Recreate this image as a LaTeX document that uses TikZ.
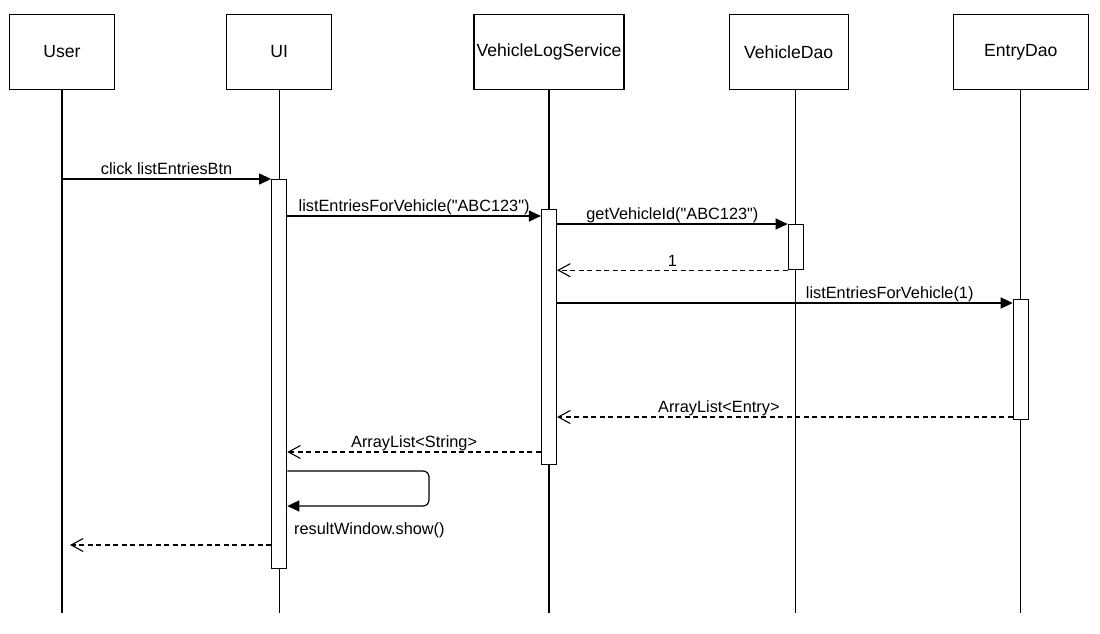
\documentclass[tikz,border=0pt]{standalone}
\usepackage{fontspec}
\setmainfont{Liberation Sans}[Ligatures=TeXOff]
\usetikzlibrary{arrows.meta}
\usetikzlibrary{positioning}

\begin{document}
\begin{tikzpicture}[x=1pt,y=-1pt,
  lifebox/.style={draw,line width=1.2pt,minimum height=75pt,inner sep=0pt,font=\fontsize{17.6}{20}\selectfont},
  act/.style={draw,fill=white,line width=1.2pt,minimum width=15pt,inner sep=0pt,anchor=north},
  lifeline/.style={line width=1.1pt},
  msg/.style={line width=1.2pt,-{Triangle[length=12pt,width=11pt]}},
  ret/.style={line width=1.1pt,dash pattern=on 5pt off 3.5pt,-{Straight Barb[length=12pt,width=13pt]}},
  lbl/.style={font=\fontsize{16.3}{19}\selectfont,inner sep=1pt,text depth=0.25em}]
  \useasboundingbox (0,0) rectangle (1100,634);
  % participants
  \node[lifebox,minimum width=105pt] (user) at (62,51.8) {User};
  \node[lifebox,minimum width=105pt] (ui) at (279.2,51.8) {UI};
  \node[lifebox,minimum width=150pt] (vls) at (549,51.8) {VehicleLogService};
  \node[lifebox,minimum width=119pt] (vdao) at (788.7,51.8) {VehicleDao};
  \node[lifebox,minimum width=135pt] (edao) at (1020.8,51.8) {EntryDao};
  % activations
  \node[act,minimum height=389pt] (uiact) at (279.2,179) {};
  \node[act,minimum height=255pt] (vlsact) at (549,209) {};
  \node[act,minimum height=45pt] (vdaoact) at (795.8,224) {};
  \node[act,minimum height=120pt] (edaoact) at (1020.8,299) {};
  % lifelines
  \draw[lifeline] (user.south) -- (user.south |- 0,613);
  \draw[lifeline] (ui.south) -- (uiact.north);
  \draw[lifeline] (uiact.south) -- (uiact.south |- 0,613);
  \draw[lifeline] (vls.south -| vlsact.north) -- (vlsact.north);
  \draw[lifeline] (vlsact.south) -- (vlsact.south |- 0,613);
  \draw[lifeline] (vdao.south -| vdaoact.north) -- (vdaoact.north);
  \draw[lifeline] (vdaoact.south) -- (vdaoact.south |- 0,613);
  \draw[lifeline] (edao.south) -- (edaoact.north);
  \draw[lifeline] (edaoact.south) -- (edaoact.south |- 0,613);
  % messages
  \draw[msg] (user |- uiact.north) -- node[lbl,above] {click listEntriesBtn} (uiact.north west);
  \draw[msg] (uiact.east |- 0,216) -- node[lbl,above] {listEntriesForVehicle("ABC123")} (vlsact.west |- 0,216);
  \draw[msg] (vlsact.east |- vdaoact.north) -- node[lbl,above] {getVehicleId("ABC123")} (vdaoact.north west);
  \draw[ret] (vdaoact.south west) -- node[lbl,above] {1} (vlsact.east |- vdaoact.south);
  \draw[msg] (vlsact.east |- 0,303) -- node[lbl,above,pos=0.73] {listEntriesForVehicle(1)} (edaoact.west |- 0,303);
  \draw[ret] (edaoact.west |- 0,417) -- node[lbl,above,pos=0.645] {ArrayList<Entry>} (vlsact.east |- 0,417);
  \draw[ret] (vlsact.west |- 0,452) -- node[lbl,above] {ArrayList<String>} (uiact.east |- 0,452);
  \draw[msg,rounded corners=6pt] (uiact.east |- 0,471) -| (429,506) -- (uiact.east |- 0,506);
  \node[lbl,anchor=base west] (showlbl) at (293,534) {resultWindow.show()};
  \coordinate (userret) at (70,545);
  \draw[ret] (uiact.west |- userret) -- (userret);
\end{tikzpicture}
\end{document}
